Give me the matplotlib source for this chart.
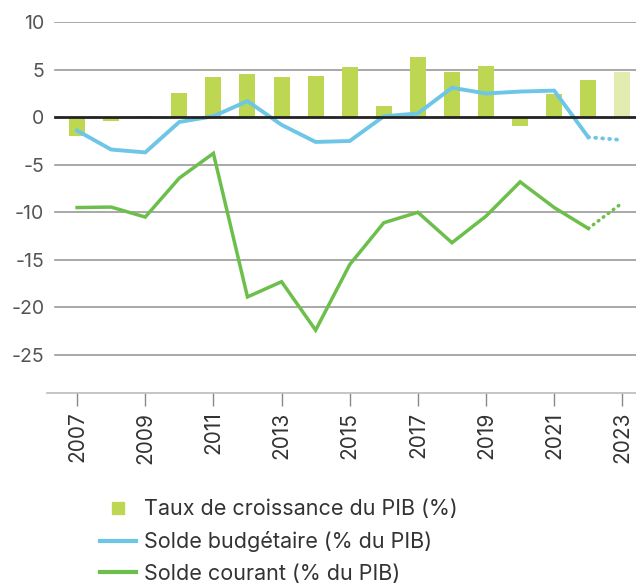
import matplotlib.pyplot as plt
from matplotlib.lines import Line2D

years = list(range(2007, 2024))
croissance = [-2.0, -0.4, 0.1, 2.6, 4.2, 4.5, 4.2, 4.3, 5.3, 1.2, 6.3, 4.8, 5.4, -0.9, 2.4, 3.9, 4.8]
budget = [-1.4, -3.4, -3.7, -0.5, 0.1, 1.7, -0.8, -2.6, -2.5, 0.1, 0.4, 3.1, 2.5, 2.7, 2.8, -2.1, -2.4]
courant = [-9.5, -9.45, -10.5, -6.4, -3.8, -18.9, -17.3, -22.4, -15.5, -11.1, -10.0, -13.2, -10.4, -6.8, -9.5, -11.7, -9.0]
n_proj = 1  # last year is a projection

labels = ['Taux de croissance du PIB (%)', 'Solde budgétaire (% du PIB)', 'Solde courant (% du PIB)']

bar_col = '#bdd753'
bar_proj = '#e2ebb0'
blue = '#6ec6e6'
green = '#6cbf4b'

plt.rcParams['font.family'] = ['Inter', 'DejaVu Sans']
plt.rcParams['axes.unicode_minus'] = False

fig = plt.figure(figsize=(6.36, 5.83), dpi=100)
ax = fig.add_axes([0.074, 0.326, 0.926, 0.636])

bar_colors = [bar_col] * (len(years) - n_proj) + [bar_proj] * n_proj
ax.bar(years, croissance, width=0.47, color=bar_colors, zorder=2)

k = len(years) - n_proj
ax.plot(years[:k], budget[:k], color=blue, lw=2.8, zorder=3, solid_joinstyle='miter')
ax.plot(years[k - 1:], budget[k - 1:], color=blue, lw=2.8, ls=(0, (0.2, 1.6)),
        dash_capstyle='round', zorder=3)
ax.plot(years[:k], courant[:k], color=green, lw=2.5, zorder=3, solid_joinstyle='miter')
ax.plot(years[k - 1:], courant[k - 1:], color=green, lw=2.5, ls=(0, (0.2, 1.6)),
        dash_capstyle='round', zorder=3)

ax.set_ylim(-29, 10)
ax.set_xlim(2006.12, 2023.4)
ax.set_yticks([10, 5, 0, -5, -10, -15, -20, -25])
ax.set_xticks(years[::2])
ax.set_xticklabels([str(y) for y in years[::2]], rotation=90)

for y in [10, 5, -5, -10, -15, -20, -25]:
    ax.axhline(y, color='#9a9a9a', lw=1.2, xmin=0.014, zorder=1)
ax.axhline(0, color='#222222', lw=2, xmin=0.014, zorder=4)

for s in ['top', 'right', 'left']:
    ax.spines[s].set_visible(False)
ax.spines['bottom'].set_color('#bbbbbb')
ax.spines['bottom'].set_linewidth(1.2)

ax.tick_params(axis='y', length=0, labelsize=14, labelcolor='#555555', pad=2)
ax.tick_params(axis='x', length=9.4, color='#888888', width=1, labelsize=15,
               labelcolor='#333333', pad=4)

handles = [
    Line2D([0], [0], marker='s', color='none', markerfacecolor=bar_col,
           markeredgecolor=bar_col, markersize=9),
    Line2D([0], [0], color=blue, lw=3),
    Line2D([0], [0], color=green, lw=3),
]
fig.legend(handles, labels, loc='upper left', bbox_to_anchor=(0.14, 0.162),
           frameon=False, fontsize=15.5, labelcolor='#333333', handlelength=1.7,
           handletextpad=0.35, labelspacing=0.55, borderpad=0)

fig.savefig('out.png', dpi=100)
